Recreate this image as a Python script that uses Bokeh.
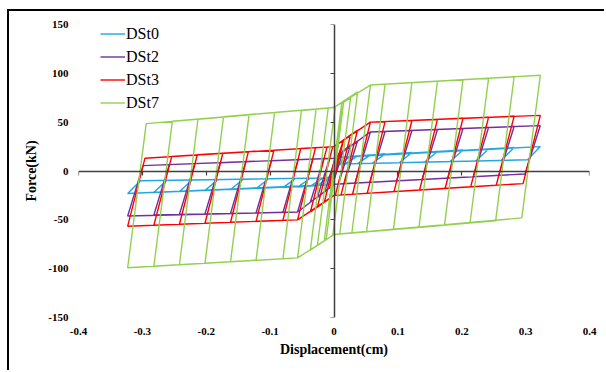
from bokeh.plotting import figure
from bokeh.models import LinearAxis, FixedTicker, Range1d, Legend, LegendItem
from bokeh.embed import file_html
from bokeh.resources import INLINE

# ---- data ----
AMPLITUDE = [0.007, 0.015, 0.026, 0.037, 0.057, 0.080, 0.122, 0.162, 0.202, 0.242, 0.282, 0.323]

# DSt0 (blue)
DST0_POS_PEAK = [5, 14.2, 14.8, 15.3, 16.5, 17.5, 19, 20, 21.5, 22.5, 24, 25]
DST0_UNLOAD_X = [-0.004, 0.009, 0.009, 0.017, 0.037, 0.060, 0.102, 0.142, 0.182, 0.222, 0.262, 0.303]
DST0_UNLOAD_F = [-3, 6, 7, 7.3, 7.6, 7.9, 8.5, 9.1, 9.7, 10.3, 10.9, 11.5]
DST0_NEG_PEAK = [-5, -14.2, -14.8, -15.5, -16.5, -17, -18, -19, -20, -21, -22, -23]
DST0_RELOAD_X = [0.004, -0.009, -0.009, -0.017, -0.037, -0.060, -0.102, -0.142, -0.182, -0.222, -0.262, -0.303]
DST0_RELOAD_F = [3, -6, -7, -7.2, -7.4, -7.6, -8, -8.4, -8.8, -9.2, -9.6, -10]
DST0_KNEE_UP_X = [-0.008, 0.008]
DST0_KNEE_UP_F = [-7, 14]
DST0_KNEE_DOWN_X = [0.008, -0.008]
DST0_KNEE_DOWN_F = [7, -14]
DST0_END_X = [-0.008]
DST0_END_F = [-7]

# DSt2 (purple)
DST2_POS_PEAK = [12, 22, 27, 31, 40, 40.5, 41.5, 42.5, 43.5, 44.5, 45.5, 46.5]
DST2_UNLOAD_X = [-0.004, -0.002, 0.007, 0.016, 0.033, 0.056, 0.098, 0.138, 0.178, 0.218, 0.258, 0.299]
DST2_UNLOAD_F = [-8, -13.6, -13.3, -13, -12.3, -11.5, -10.1, -8.7, -7.3, -5.9, -4.5, -3]
DST2_NEG_PEAK = [-12, -22, -27, -32, -42, -42.5, -43, -43.5, -44, -44.5, -45, -46]
DST2_RELOAD_X = [0.004, 0.002, -0.007, -0.016, -0.033, -0.056, -0.098, -0.138, -0.178, -0.218, -0.258, -0.299]
DST2_RELOAD_F = [8, 13, 12.8, 12.6, 12.2, 11.6, 10.5, 9.5, 8.5, 7.5, 6.5, 5.5]
DST2_KNEE_UP_X = [0.0, 0.057]
DST2_KNEE_UP_F = [13, 40]
DST2_KNEE_DOWN_X = [0.0, -0.057]
DST2_KNEE_DOWN_F = [-13.5, -42]
DST2_END_X = [0.0]
DST2_END_F = [13]

# DSt3 (red)
DST3_POS_PEAK = [18, 32, 37, 42, 50, 50.5, 51.7, 52.8, 54, 55, 56, 57]
DST3_UNLOAD_X = [-0.005, -0.007, 0.002, 0.011, 0.029, 0.052, 0.094, 0.134, 0.174, 0.214, 0.254, 0.296]
DST3_UNLOAD_F = [-12, -28, -25, -24.5, -23.8, -22.9, -21.1, -19.5, -17.9, -16.2, -14.6, -12.9]
DST3_NEG_PEAK = [-18, -32, -37, -42, -50, -50.5, -51.5, -52.5, -53.5, -54.5, -55.5, -56.5]
DST3_RELOAD_X = [0.005, 0.007, -0.002, -0.011, -0.029, -0.052, -0.094, -0.134, -0.174, -0.214, -0.254, -0.296]
DST3_RELOAD_F = [12, 28, 25, 24.5, 23.8, 23, 21.3, 19.8, 18.2, 16.6, 14.9, 13]
DST3_KNEE_UP_X = [0.0, 0.057]
DST3_KNEE_UP_F = [25, 50]
DST3_KNEE_DOWN_X = [0.0, -0.057]
DST3_KNEE_DOWN_F = [-25, -50]
DST3_END_X = [0.0]
DST3_END_F = [25]

# DSt7 (green)
DST7_POS_PEAK = [36, 70, 75, 81, 88, 89, 90.5, 92, 93.5, 95, 96.5, 98]
DST7_UNLOAD_X = [-0.005, -0.012, -0.002, 0.009, 0.028, 0.051, 0.093, 0.133, 0.173, 0.213, 0.253, 0.294]
DST7_UNLOAD_F = [-30, -69, -66, -64.5, -63.5, -62, -60, -57.5, -55.5, -53, -51, -48]
DST7_NEG_PEAK = [-36, -70, -76, -81, -89, -90, -91.5, -93, -94.5, -96, -97.5, -99]
DST7_RELOAD_X = [0.005, 0.012, 0.002, -0.009, -0.028, -0.051, -0.093, -0.133, -0.173, -0.213, -0.253, -0.294]
DST7_RELOAD_F = [30, 69, 66, 64.5, 63.5, 62, 60, 57.5, 55.5, 53, 51, 48.5]
DST7_KNEE_UP_X = [0.0, 0.057]
DST7_KNEE_UP_F = [65, 88]
DST7_KNEE_DOWN_X = [0.0, -0.057]
DST7_KNEE_DOWN_F = [-65, -89]
DST7_END_X = [0.0]
DST7_END_F = [65]

X_TICKS = [-0.4, -0.3, -0.2, -0.1, 0, 0.1, 0.2, 0.3, 0.4]
X_TICK_LABELS = ["-0.4", "-0.3", "-0.2", "-0.1", "0", "0.1", "0.2", "0.3", "0.4"]
Y_TICKS = [-150, -100, -50, 0, 50, 100, 150]
Y_TICK_LABELS = ["-150", "-100", "-50", "0", "50", "100", "150"]

SERIES = ["DSt0", "DSt2", "DSt3", "DSt7"]
COLORS = ["#22A7E0", "#7030A0", "#FF0000", "#92D050"]


def build_path(amp, pos_f, ux, uf, neg_f, rx, rf, kux, kuf, kdx, kdf, ex, ef):
    xs, ys = [0.0], [0.0]
    for i, d in enumerate(amp):
        for kx, kf in zip(kux, kuf):
            if xs[-1] < kx < d:
                xs.append(kx); ys.append(kf)
        xs.append(d); ys.append(pos_f[i])
        xs.append(ux[i]); ys.append(uf[i])
        for kx, kf in zip(kdx, kdf):
            if -d < kx < xs[-1]:
                xs.append(kx); ys.append(kf)
        xs.append(-d); ys.append(neg_f[i])
        xs.append(rx[i]); ys.append(rf[i])
    xs.extend(ex); ys.extend(ef)
    return xs, ys


paths = [
    build_path(AMPLITUDE, DST0_POS_PEAK, DST0_UNLOAD_X, DST0_UNLOAD_F, DST0_NEG_PEAK, DST0_RELOAD_X, DST0_RELOAD_F,
               DST0_KNEE_UP_X, DST0_KNEE_UP_F, DST0_KNEE_DOWN_X, DST0_KNEE_DOWN_F, DST0_END_X, DST0_END_F),
    build_path(AMPLITUDE, DST2_POS_PEAK, DST2_UNLOAD_X, DST2_UNLOAD_F, DST2_NEG_PEAK, DST2_RELOAD_X, DST2_RELOAD_F,
               DST2_KNEE_UP_X, DST2_KNEE_UP_F, DST2_KNEE_DOWN_X, DST2_KNEE_DOWN_F, DST2_END_X, DST2_END_F),
    build_path(AMPLITUDE, DST3_POS_PEAK, DST3_UNLOAD_X, DST3_UNLOAD_F, DST3_NEG_PEAK, DST3_RELOAD_X, DST3_RELOAD_F,
               DST3_KNEE_UP_X, DST3_KNEE_UP_F, DST3_KNEE_DOWN_X, DST3_KNEE_DOWN_F, DST3_END_X, DST3_END_F),
    build_path(AMPLITUDE, DST7_POS_PEAK, DST7_UNLOAD_X, DST7_UNLOAD_F, DST7_NEG_PEAK, DST7_RELOAD_X, DST7_RELOAD_F,
               DST7_KNEE_UP_X, DST7_KNEE_UP_F, DST7_KNEE_DOWN_X, DST7_KNEE_DOWN_F, DST7_END_X, DST7_END_F),
]

FONT = "Liberation Serif"
AXIS_COLOR = "#404040"

p = figure(width=597, height=361, x_range=Range1d(-0.4, 0.4), y_range=Range1d(-150, 150),
           x_axis_type=None, y_axis_type=None, output_backend="svg", toolbar_location=None,
           min_border_left=69, min_border_right=17, min_border_top=13, min_border_bottom=55)
p.outline_line_color = None
p.background_fill_color = "white"
p.border_fill_color = "white"
p.styles = {"margin-left": "7px", "margin-top": "9px",
            "border-left": "2px solid #000", "border-top": "2px solid #000"}

# tick-label axes at the frame edges
xlab = LinearAxis(ticker=FixedTicker(ticks=X_TICKS),
                  major_label_overrides={t: s for t, s in zip(X_TICKS, X_TICK_LABELS)},
                  axis_label="Displacement(cm)")
ylab = LinearAxis(ticker=FixedTicker(ticks=Y_TICKS),
                  major_label_overrides={t: s for t, s in zip(Y_TICKS, Y_TICK_LABELS)},
                  axis_label="Force(kN)")
for ax, st, ls in ((xlab, 10, 4), (ylab, 10, 6)):
    ax.axis_line_color = None
    ax.major_tick_line_color = None
    ax.minor_tick_line_color = None
    ax.major_tick_in = 0
    ax.major_tick_out = 0
    ax.major_label_standoff = st
    ax.major_label_text_font = FONT
    ax.major_label_text_font_style = "bold"
    ax.major_label_text_font_size = "11px"
    ax.major_label_text_color = "black"
    ax.axis_label_text_font = FONT
    ax.axis_label_text_font_style = "bold"
    ax.axis_label_text_font_size = "14px"
    ax.axis_label_text_color = "black"
    ax.axis_label_standoff = ls
p.add_layout(xlab, "below")
p.add_layout(ylab, "left")

# series
renderers = []
for (xs, ys), c in zip(paths, COLORS):
    r = p.line(xs, ys, line_color=c, line_width=1.4)
    renderers.append(r)

# axis lines through zero
x0 = LinearAxis(fixed_location=0, ticker=FixedTicker(ticks=X_TICKS),
                major_label_overrides={t: "" for t in X_TICKS})
y0 = LinearAxis(fixed_location=0, ticker=FixedTicker(ticks=Y_TICKS),
                major_label_overrides={t: "" for t in Y_TICKS})
for ax in (x0, y0):
    ax.axis_line_color = AXIS_COLOR
    ax.axis_line_width = 1.5
    ax.major_tick_line_color = AXIS_COLOR
    ax.major_tick_line_width = 1.2
    ax.major_tick_in = 0
    ax.major_tick_out = 4
    ax.minor_tick_line_color = None
    ax.major_label_text_font_size = "0px"
    ax.major_label_standoff = 0
p.add_layout(x0, "below")
p.add_layout(y0, "left")

legend = Legend(items=[LegendItem(label=s, renderers=[r]) for s, r in zip(SERIES, renderers)],
                location=(22, 205), orientation="vertical")
legend.label_text_font = FONT
legend.label_text_font_size = "16px"
legend.label_text_color = "black"
legend.glyph_width = 25
legend.glyph_height = 19
legend.label_height = 19
legend.label_standoff = 1
legend.spacing = 4
legend.padding = 0
legend.margin = 0
legend.border_line_color = None
legend.background_fill_alpha = 0
p.add_layout(legend, "center")

open("out.html", "w").write(file_html(p, INLINE))
